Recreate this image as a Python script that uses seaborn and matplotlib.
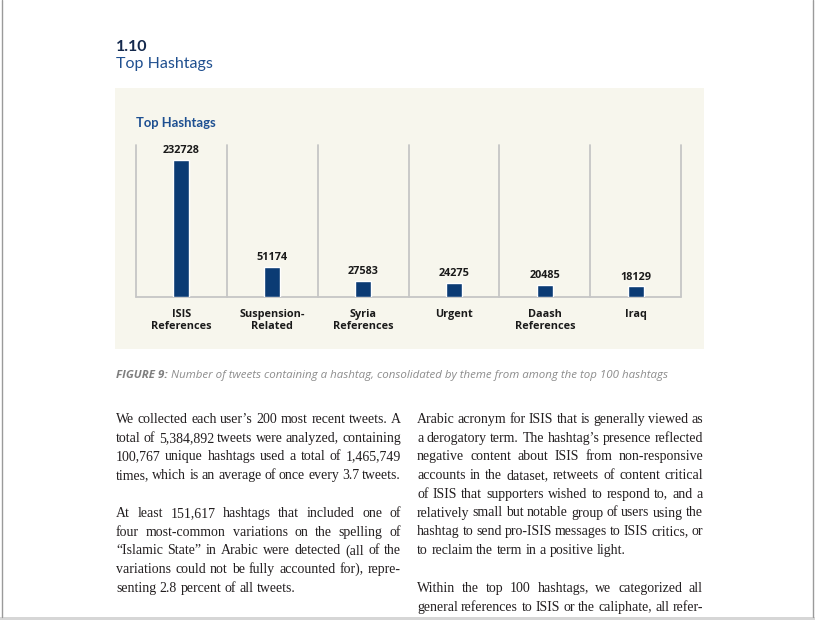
import matplotlib
matplotlib.use("Agg")
import matplotlib.pyplot as plt
from matplotlib.patches import Rectangle
from matplotlib.lines import Line2D
import seaborn as sns

W, H = 815, 620

# chart data
categories = ["ISIS\nReferences", "Suspension-\nRelated", "Syria\nReferences",
              "Urgent", "Daash\nReferences", "Iraq"]
counts = [232728, 51174, 27583, 24275, 20485, 18129]

# page text
section_no = "1.10"
section_title = "Top Hashtags"
chart_title = "Top Hashtags"
caption_head = "FIGURE 9:"
caption_body = " Number of tweets containing a hashtag, consolidated by theme from among the top 100 hashtags"

col1_par1 = [
    "We collected each user\u2019s 200 most recent tweets. A",
    "total of 5,384,892 tweets were analyzed, containing",
    "100,767 unique hashtags used a total of 1,465,749",
    "times, which is an average of once every 3.7 tweets.",
]
col1_par2 = [
    "At least 151,617 hashtags that included one of",
    "four most-common variations on the spelling of",
    "\u201cIslamic State\u201d in Arabic were detected (all of the",
    "variations could not be fully accounted for), repre-",
    "senting 2.8 percent of all tweets.",
]
col2_par1 = [
    "Arabic acronym for ISIS that is generally viewed as",
    "a derogatory term. The hashtag\u2019s presence reflected",
    "negative content about ISIS from non-responsive",
    "accounts in the dataset, retweets of content critical",
    "of ISIS that supporters wished to respond to, and a",
    "relatively small but notable group of users using the",
    "hashtag to send pro-ISIS messages to ISIS critics, or",
    "to reclaim the term in a positive light.",
]
col2_par2 = [
    "Within the top 100 hashtags, we categorized all",
    "general references to ISIS or the caliphate, all refer-",
]

sns.set_style("white")
plt.rcParams['font.family'] = ['Open Sans', 'DejaVu Sans']

fig = plt.figure(figsize=(W / 100, H / 100), dpi=100)
fig.patch.set_facecolor("white")
renderer = fig.canvas.get_renderer()


def px(x, y):
    return x / W, 1 - y / H


# page edges
fig.add_artist(Line2D([1.5 / W] * 2, [1 - 617 / H, 1], color="#9a9a9a", lw=1))
fig.add_artist(Line2D([812.5 / W] * 2, [1 - 617 / H, 1], color="#9a9a9a", lw=1))
fig.add_artist(Rectangle(px(0, 620), 1, 3.5 / H, transform=fig.transFigure,
                         facecolor="#d6d6d6", edgecolor="none"))

# heading
fig.text(*px(116, 51), section_no, family="Lato", fontweight="bold",
         fontsize=11.5, color="#14294d", va="baseline")
fig.text(*px(116, 68), section_title, family="Lato", fontsize=11.5,
         color="#1f4f8f", va="baseline")

# beige chart panel
fig.add_artist(Rectangle(px(115, 349), 589 / W, 261 / H, transform=fig.transFigure,
                         facecolor="#f7f6ed", edgecolor="none", zorder=-1))
fig.text(*px(136, 127), chart_title, family="Lato", fontweight="bold",
         fontsize=9.4, color="#1d4f91", va="baseline")

ax = fig.add_axes([136 / W, 1 - 297 / H, 545 / W, 152 / H])
ax.set_facecolor("none")
sns.barplot(x=categories, y=counts, color="#0b3b74", width=0.176,
            saturation=1, ax=ax, zorder=3)
ax.set_xlim(-0.5, len(categories) - 0.5)
ax.set_ylim(0, 258000)
for s in ax.spines.values():
    s.set_visible(False)
for i in range(len(categories) + 1):
    ax.axvline(i - 0.5, color="#c6c6c6", lw=1.3, zorder=1, clip_on=False)
ax.axhline(0, color="#c6c6c6", lw=1.3, zorder=1, clip_on=False)
ax.set_yticks([])
ax.set_xlabel("")
ax.set_ylabel("")
ax.tick_params(axis="x", length=0, pad=8.5)
ax.set_xticks(range(len(categories)))
ax.set_xticklabels(categories, fontsize=7.8, fontweight="bold",
                   color="#1a1a1a", linespacing=1.1)
ax.bar_label(ax.containers[0], labels=[str(v) for v in counts], padding=2.5,
             fontsize=7.8, fontweight="bold", color="#1a1a1a")

# caption
cap = fig.text(*px(116, 378), caption_head, fontsize=8.25, style="italic",
               fontweight="bold", color="#7f7f7f", va="baseline")
w_head = cap.get_window_extent(renderer).width
fig.text(*px(116 + w_head, 378), caption_body, fontsize=8.25, style="italic",
         color="#8c8c8c", va="baseline")

# body text, justified
BODY = dict(family="Liberation Serif", fontsize=10, color="#231f20", va="baseline")


def justified(lines, x0, x1, y0, step, last_left=True):
    space = BODY["fontsize"] * 100 / 72 * 0.25
    for k, line in enumerate(lines):
        y = y0 + k * step
        words = line.split(" ")
        texts = [fig.text(0, 0, w, **BODY) for w in words]
        widths = [t.get_window_extent(renderer).width for t in texts]
        if (k == len(lines) - 1 and last_left) or len(words) == 1:
            gap = space
        else:
            gap = (x1 - x0 - sum(widths)) / (len(words) - 1)
        x = x0
        for t, w in zip(texts, widths):
            t.set_position(px(x, y))
            x += w + gap


step = 18.7
justified(col1_par1, 116, 401, 423, step, last_left=False)
justified(col1_par2, 116, 401, 517, step)
justified(col2_par1, 417, 703, 423, step)
justified(col2_par2, 417, 703, 592, step, last_left=False)

fig.savefig("out.png", dpi=100, facecolor="white")
